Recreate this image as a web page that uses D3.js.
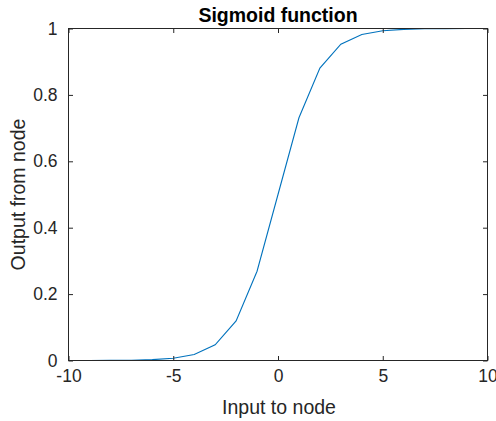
<!DOCTYPE html>
<html>
<head>
<meta charset="utf-8">
<script src="https://cdn.jsdelivr.net/npm/d3@7"></script>
<style>
  html, body { margin: 0; padding: 0; background: #fff; }
  svg { display: block; font-family: "Liberation Sans", Arial, sans-serif; }
</style>
</head>
<body>
<svg id="chart" width="496" height="421"></svg>
<script>
// Inputs sampled at whole numbers and the node output at each
const inputs  = [-10, -9, -8, -7, -6, -5, -4, -3, -2, -1, 0, 1, 2, 3, 4, 5, 6, 7, 8, 9, 10];
const outputs = [0.00005, 0.00012, 0.00034, 0.00091, 0.0025, 0.0067, 0.018, 0.0474, 0.1192, 0.2689,
                 0.5, 0.7311, 0.8808, 0.9526, 0.982, 0.9933, 0.9975, 0.9991, 0.9997, 0.9999, 0.99995];
const xTicks = [-10, -5, 0, 5, 10];
const yTicks = [0, 0.2, 0.4, 0.6, 0.8, 1];
const xTickLabels = ["-10", "-5", "0", "5", "10"];
const yTickLabels = ["0", "0.2", "0.4", "0.6", "0.8", "1"];

const axisColor = "#262626";
const lineColor = "#0072BD";
const plot = { left: 68.5, right: 487.5, top: 28.5, bottom: 360.5 };
const tickLen = 4.5;

const svg = d3.select("#chart");
const x = d3.scaleLinear().domain([-10, 10]).range([plot.left, plot.right]);
const y = d3.scaleLinear().domain([0, 1]).range([plot.bottom, plot.top]);

// Curve
const line = d3.line().x((d, i) => x(inputs[i])).y(d => y(d));
svg.append("path")
  .datum(outputs)
  .attr("d", line)
  .attr("fill", "none")
  .attr("stroke", lineColor)
  .attr("stroke-width", 1.1);

// Box around the axes
svg.append("rect")
  .attr("x", plot.left).attr("y", plot.top)
  .attr("width", plot.right - plot.left).attr("height", plot.bottom - plot.top)
  .attr("fill", "none").attr("stroke", axisColor).attr("stroke-width", 1);

// Inward ticks on all four sides
const bottomAxis = d3.axisBottom(x).tickValues(xTicks).tickSize(-tickLen).tickPadding(9)
  .tickFormat((d, i) => xTickLabels[i]);
const leftAxis = d3.axisLeft(y).tickValues(yTicks).tickSize(-tickLen).tickPadding(11)
  .tickFormat((d, i) => yTickLabels[i]);
const topAxis = d3.axisTop(x).tickValues(xTicks).tickSize(-tickLen).tickFormat("");
const rightAxis = d3.axisRight(y).tickValues(yTicks).tickSize(-tickLen).tickFormat("");

function styleAxis(g) {
  g.select(".domain").remove();
  g.selectAll(".tick line").attr("stroke", axisColor);
  g.selectAll(".tick text").attr("fill", axisColor).style("font-size", "17.5px")
    .style("font-family", "'Liberation Sans', Arial, sans-serif");
}

svg.append("g").attr("transform", `translate(0,${plot.bottom})`).call(bottomAxis).call(styleAxis);
svg.append("g").attr("transform", `translate(${plot.left},0)`).call(leftAxis).call(styleAxis);
svg.append("g").attr("transform", `translate(0,${plot.top})`).call(topAxis).call(styleAxis);
svg.append("g").attr("transform", `translate(${plot.right},0)`).call(rightAxis).call(styleAxis);

// Title and axis labels
svg.append("text")
  .attr("x", (plot.left + plot.right) / 2).attr("y", 22)
  .attr("text-anchor", "middle")
  .attr("fill", "#000")
  .style("font-size", "19.5px").style("font-weight", "bold")
  .text("Sigmoid function");

svg.append("text")
  .attr("x", (plot.left + plot.right) / 2 + 1).attr("y", 414)
  .attr("text-anchor", "middle")
  .attr("fill", axisColor)
  .style("font-size", "19.5px")
  .text("Input to node");

svg.append("text")
  .attr("transform", `translate(25,${(plot.top + plot.bottom) / 2}) rotate(-90)`)
  .attr("text-anchor", "middle")
  .attr("fill", axisColor)
  .style("font-size", "19.5px")
  .text("Output from node");
</script>
</body>
</html>
